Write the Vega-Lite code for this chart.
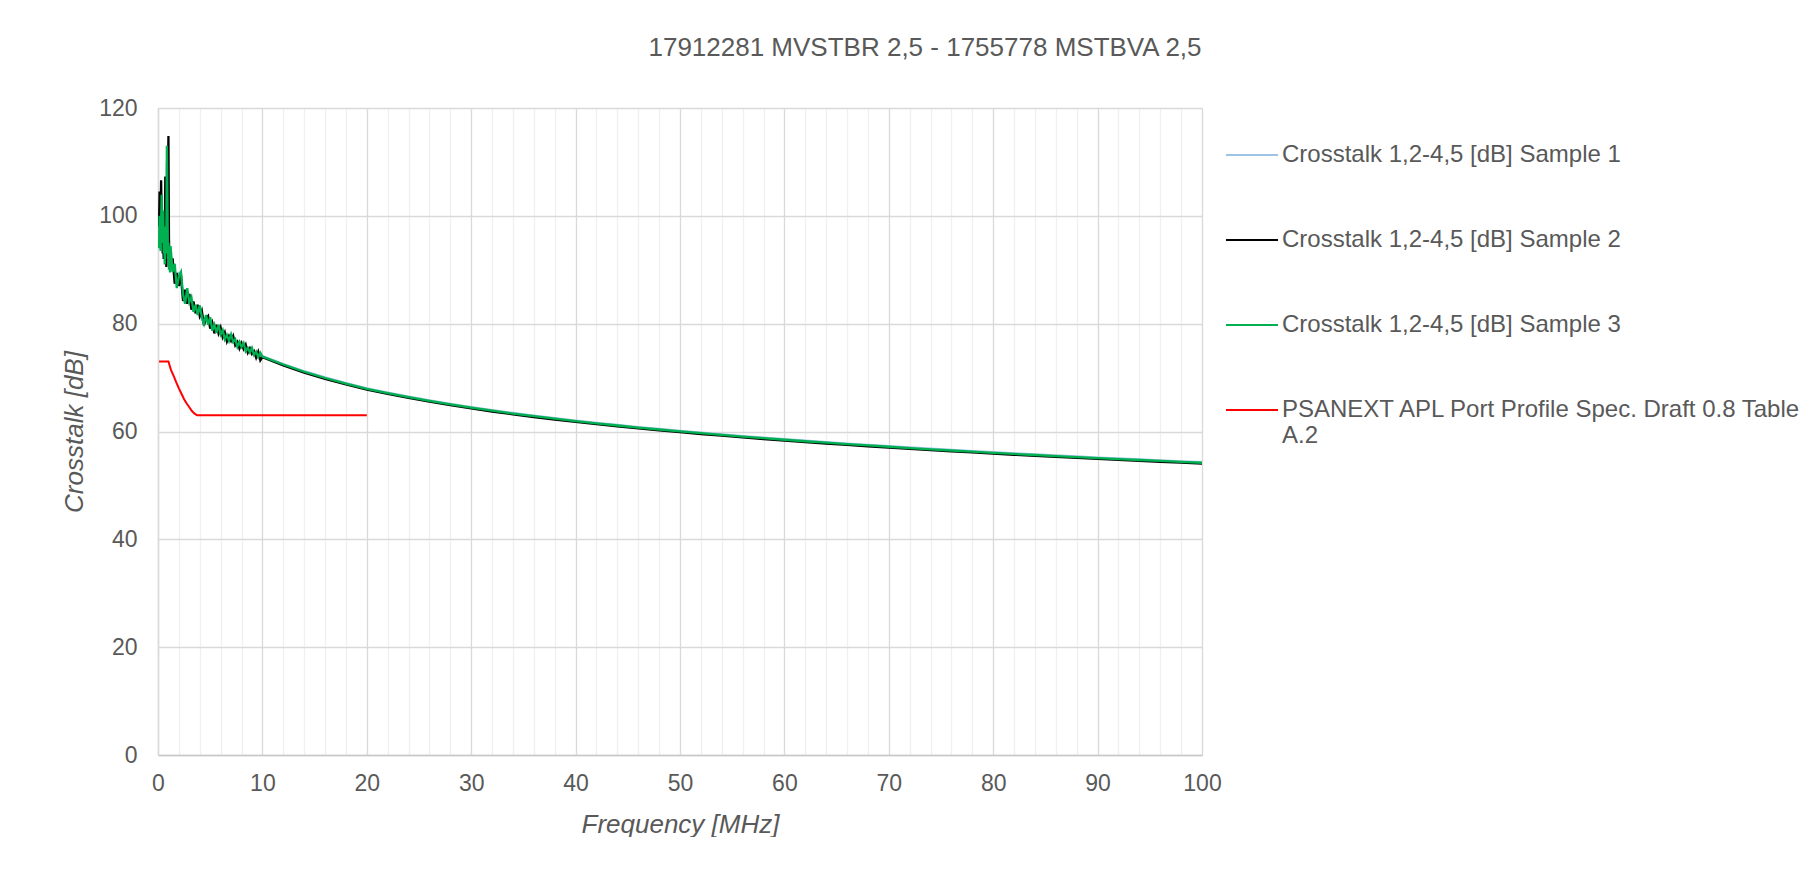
{
  "$schema": "https://vega.github.io/schema/vega-lite/v6.json",
  "width": 1044,
  "height": 647,
  "padding": {"left": 61, "top": 35, "right": 0, "bottom": 0},
  "title": {"text": "17912281 MVSTBR 2,5 - 1755778 MSTBVA 2,5", "anchor": "middle", "frame": "group", "dx": 245, "offset": 36, "fontSize": 26, "font": "Liberation Sans", "fontWeight": "normal", "color": "#595959"},
  "datasets": {
    "s1": [
      {"f":0.1,"v":95},{"f":0.15,"v":99},{"f":0.2,"v":96},{"f":0.25,"v":94},{"f":0.3,"v":100},{"f":0.35,"v":102},{"f":0.4,"v":97},{"f":0.45,"v":94},{"f":0.5,"v":99},{"f":0.55,"v":92},{"f":0.6,"v":97},{"f":0.65,"v":92},{"f":0.7,"v":97},{"f":0.75,"v":93},{"f":0.8,"v":96},{"f":0.85,"v":110},{"f":0.9,"v":103},{"f":0.95,"v":94},{"f":1.0,"v":96},{"f":1.05,"v":91},{"f":1.1,"v":94},{"f":1.15,"v":90},
      {"f":1.2,"v":92.9},{"f":1.4,"v":90.3},{"f":1.6,"v":89.4},{"f":1.8,"v":87.9},{"f":2.0,"v":89.6},{"f":2.2,"v":87.8},{"f":2.4,"v":84.6},{"f":2.6,"v":85.1},{"f":2.8,"v":85.4},{"f":3.0,"v":84.9},{"f":3.2,"v":84.1},{"f":3.4,"v":83.1},{"f":3.6,"v":82.5},{"f":3.8,"v":82.9},{"f":4.0,"v":82.6},{"f":4.2,"v":80.7},{"f":4.4,"v":80.9},{"f":4.6,"v":81.2},{"f":4.8,"v":80.7},{"f":5.0,"v":80.2},{"f":5.2,"v":79.3},{"f":5.4,"v":78.9},{"f":5.6,"v":79.1},{"f":5.8,"v":79.3},{"f":6.0,"v":78.7},{"f":6.2,"v":78.2},{"f":6.4,"v":77.7},{"f":6.6,"v":77.2},{"f":6.8,"v":77.7},{"f":7.0,"v":77.4},{"f":7.2,"v":77.1},{"f":7.4,"v":76.5},{"f":7.6,"v":76.1},{"f":7.8,"v":76.7},{"f":8.0,"v":76.0},{"f":8.2,"v":75.9},{"f":8.4,"v":75.3},{"f":8.6,"v":75.0},{"f":8.8,"v":75.5},{"f":9.0,"v":75.0},{"f":9.2,"v":74.6},{"f":9.4,"v":74.3},{"f":9.6,"v":74.3},{"f":9.8,"v":74.4},{"f":10,"v":74.0},
      {"f":12,"v":72.52},{"f":14,"v":71.18},{"f":16,"v":70.02},{"f":18,"v":68.99},{"f":20,"v":68.0},{"f":22,"v":67.22},{"f":24,"v":66.48},{"f":26,"v":65.78},{"f":28,"v":65.13},{"f":30,"v":64.52},{"f":32,"v":63.96},{"f":34,"v":63.43},{"f":36,"v":62.94},{"f":38,"v":62.47},{"f":40,"v":62.03},{"f":42,"v":61.61},{"f":44,"v":61.21},{"f":46,"v":60.83},{"f":48,"v":60.47},{"f":50,"v":60.12},{"f":52,"v":59.79},{"f":54,"v":59.47},{"f":56,"v":59.16},{"f":58,"v":58.86},{"f":60,"v":58.57},{"f":62,"v":58.29},{"f":64,"v":58.02},{"f":66,"v":57.76},{"f":68,"v":57.51},{"f":70,"v":57.27},{"f":72,"v":57.03},{"f":74,"v":56.8},{"f":76,"v":56.58},{"f":78,"v":56.36},{"f":80,"v":56.15},{"f":82,"v":55.94},{"f":84,"v":55.74},{"f":86,"v":55.55},{"f":88,"v":55.36},{"f":90,"v":55.17},{"f":92,"v":54.99},{"f":94,"v":54.81},{"f":96,"v":54.64},{"f":98,"v":54.47},{"f":100,"v":54.3}
    ],
    "s2": [
      {"f":0.1,"v":98},{"f":0.15,"v":104.5},{"f":0.2,"v":95},{"f":0.25,"v":100},{"f":0.3,"v":106.6},{"f":0.35,"v":99},{"f":0.4,"v":97},{"f":0.45,"v":93},{"f":0.5,"v":96},{"f":0.55,"v":92},{"f":0.6,"v":99},{"f":0.65,"v":95},{"f":0.7,"v":107.3},{"f":0.75,"v":94},{"f":0.8,"v":90.5},{"f":0.85,"v":96},{"f":0.9,"v":102},{"f":0.95,"v":108},{"f":1.0,"v":114.8},{"f":1.05,"v":96},{"f":1.1,"v":91},{"f":1.15,"v":94},
      {"f":1.2,"v":90.6},{"f":1.4,"v":92.1},{"f":1.6,"v":87.4},{"f":1.8,"v":89.4},{"f":2.0,"v":87.0},{"f":2.2,"v":89.0},{"f":2.4,"v":84.2},{"f":2.6,"v":86.3},{"f":2.8,"v":83.7},{"f":3.0,"v":85.5},{"f":3.2,"v":82.6},{"f":3.4,"v":84.1},{"f":3.6,"v":81.9},{"f":3.8,"v":83.5},{"f":4.0,"v":81.4},{"f":4.2,"v":82.4},{"f":4.4,"v":79.7},{"f":4.6,"v":80.9},{"f":4.8,"v":81.4},{"f":5.0,"v":79.1},{"f":5.2,"v":80.2},{"f":5.4,"v":78.2},{"f":5.6,"v":79.8},{"f":5.8,"v":78.2},{"f":6.0,"v":79.3},{"f":6.2,"v":77.5},{"f":6.4,"v":78.4},{"f":6.6,"v":76.7},{"f":6.8,"v":77.7},{"f":7.0,"v":76.8},{"f":7.2,"v":77.7},{"f":7.4,"v":76.0},{"f":7.6,"v":76.6},{"f":7.8,"v":75.4},{"f":8.0,"v":76.4},{"f":8.2,"v":75.3},{"f":8.4,"v":76.1},{"f":8.6,"v":74.6},{"f":8.8,"v":75.4},{"f":9.0,"v":74.4},{"f":9.2,"v":74.9},{"f":9.4,"v":73.7},{"f":9.6,"v":74.8},{"f":9.8,"v":73.2},{"f":10,"v":73.8},
      {"f":12,"v":72.27},{"f":14,"v":70.93},{"f":16,"v":69.77},{"f":18,"v":68.74},{"f":20,"v":67.75},{"f":22,"v":66.97},{"f":24,"v":66.23},{"f":26,"v":65.53},{"f":28,"v":64.88},{"f":30,"v":64.27},{"f":32,"v":63.71},{"f":34,"v":63.18},{"f":36,"v":62.69},{"f":38,"v":62.22},{"f":40,"v":61.78},{"f":42,"v":61.36},{"f":44,"v":60.96},{"f":46,"v":60.58},{"f":48,"v":60.22},{"f":50,"v":59.87},{"f":52,"v":59.54},{"f":54,"v":59.22},{"f":56,"v":58.91},{"f":58,"v":58.61},{"f":60,"v":58.32},{"f":62,"v":58.04},{"f":64,"v":57.77},{"f":66,"v":57.51},{"f":68,"v":57.26},{"f":70,"v":57.02},{"f":72,"v":56.78},{"f":74,"v":56.55},{"f":76,"v":56.33},{"f":78,"v":56.11},{"f":80,"v":55.9},{"f":82,"v":55.69},{"f":84,"v":55.49},{"f":86,"v":55.3},{"f":88,"v":55.11},{"f":90,"v":54.92},{"f":92,"v":54.74},{"f":94,"v":54.56},{"f":96,"v":54.39},{"f":98,"v":54.22},{"f":100,"v":54.05}
    ],
    "s3": [
      {"f":0.1,"v":94},{"f":0.15,"v":100},{"f":0.2,"v":97},{"f":0.25,"v":93.5},{"f":0.3,"v":99},{"f":0.35,"v":103.9},{"f":0.4,"v":98},{"f":0.45,"v":95},{"f":0.5,"v":101},{"f":0.55,"v":93},{"f":0.6,"v":96},{"f":0.65,"v":91},{"f":0.7,"v":98},{"f":0.75,"v":93},{"f":0.8,"v":97},{"f":0.85,"v":113},{"f":0.9,"v":104},{"f":0.95,"v":92},{"f":1.0,"v":95},{"f":1.05,"v":90},{"f":1.1,"v":93},{"f":1.15,"v":89.5},
      {"f":1.2,"v":94.4},{"f":1.4,"v":89.6},{"f":1.6,"v":91.1},{"f":1.8,"v":86.6},{"f":2.0,"v":88.8},{"f":2.2,"v":89.6},{"f":2.4,"v":85.4},{"f":2.6,"v":83.7},{"f":2.8,"v":86.6},{"f":3.0,"v":84.0},{"f":3.2,"v":84.9},{"f":3.4,"v":82.2},{"f":3.6,"v":83.5},{"f":3.8,"v":81.6},{"f":4.0,"v":83.4},{"f":4.2,"v":81.2},{"f":4.4,"v":80.0},{"f":4.6,"v":81.6},{"f":4.8,"v":79.8},{"f":5.0,"v":81.2},{"f":5.2,"v":78.7},{"f":5.4,"v":79.8},{"f":5.6,"v":78.3},{"f":5.8,"v":79.8},{"f":6.0,"v":78.0},{"f":6.2,"v":78.8},{"f":6.4,"v":77.1},{"f":6.6,"v":77.9},{"f":6.8,"v":76.8},{"f":7.0,"v":78.0},{"f":7.2,"v":76.6},{"f":7.4,"v":77.1},{"f":7.6,"v":75.7},{"f":7.8,"v":76.6},{"f":8.0,"v":75.7},{"f":8.2,"v":76.4},{"f":8.4,"v":74.9},{"f":8.6,"v":75.5},{"f":8.8,"v":74.7},{"f":9.0,"v":75.5},{"f":9.2,"v":74.2},{"f":9.4,"v":74.8},{"f":9.6,"v":73.8},{"f":9.8,"v":74.6},{"f":10,"v":73.9},
      {"f":12,"v":72.42},{"f":14,"v":71.08},{"f":16,"v":69.92},{"f":18,"v":68.89},{"f":20,"v":67.9},{"f":22,"v":67.12},{"f":24,"v":66.38},{"f":26,"v":65.68},{"f":28,"v":65.03},{"f":30,"v":64.42},{"f":32,"v":63.86},{"f":34,"v":63.33},{"f":36,"v":62.84},{"f":38,"v":62.37},{"f":40,"v":61.93},{"f":42,"v":61.51},{"f":44,"v":61.11},{"f":46,"v":60.73},{"f":48,"v":60.37},{"f":50,"v":60.02},{"f":52,"v":59.69},{"f":54,"v":59.37},{"f":56,"v":59.06},{"f":58,"v":58.76},{"f":60,"v":58.47},{"f":62,"v":58.19},{"f":64,"v":57.92},{"f":66,"v":57.66},{"f":68,"v":57.41},{"f":70,"v":57.17},{"f":72,"v":56.93},{"f":74,"v":56.7},{"f":76,"v":56.48},{"f":78,"v":56.26},{"f":80,"v":56.05},{"f":82,"v":55.84},{"f":84,"v":55.64},{"f":86,"v":55.45},{"f":88,"v":55.26},{"f":90,"v":55.07},{"f":92,"v":54.89},{"f":94,"v":54.71},{"f":96,"v":54.54},{"f":98,"v":54.37},{"f":100,"v":54.2}
    ],
    "spec": [
      {"f":0.1,"v":73},{"f":1.0,"v":73},{"f":1.25,"v":71.4},{"f":1.5,"v":70.3},{"f":1.75,"v":69.1},{"f":2.0,"v":68.0},{"f":2.25,"v":67.0},{"f":2.5,"v":66.0},{"f":2.75,"v":65.2},{"f":3.0,"v":64.5},{"f":3.25,"v":63.8},{"f":3.5,"v":63.3},{"f":3.75,"v":63.0},{"f":20,"v":63.0}
    ]
  },
  "encoding": {
    "x": {"field": "f", "type": "quantitative", "scale": {"domain": [0, 100], "nice": false},
      "axis": {"title": "Frequency [MHz]", "titleFontStyle": "italic",
        "values": [0,2,4,6,8,10,12,14,16,18,20,22,24,26,28,30,32,34,36,38,40,42,44,46,48,50,52,54,56,58,60,62,64,66,68,70,72,74,76,78,80,82,84,86,88,90,92,94,96,98,100],
        "labelExpr": "datum.value % 10 === 0 ? datum.label : ''",
        "labelOverlap": false, "labelFlush": false,
        "gridColor": {"condition": {"test": "datum.value % 10 === 0", "value": "#d9d9d9"}, "value": "#f0f0f0"},
        "labelPadding": 17, "titlePadding": 16, "domainColor": "#c8c8c8"}},
    "y": {"field": "v", "type": "quantitative", "scale": {"domain": [0, 120], "nice": false},
      "axis": {"title": "Crosstalk [dB]", "titleFontStyle": "italic", "values": [0,20,40,60,80,100,120], "labelPadding": 21, "titlePadding": 11}}
  },
  "layer": [
    {"data": {"name": "s1"}, "mark": {"type": "line", "strokeWidth": 2.3, "clip": true},
      "encoding": {"color": {"datum": "Crosstalk 1,2-4,5 [dB] Sample 1", "type": "nominal",
        "scale": {"domain": ["Crosstalk 1,2-4,5 [dB] Sample 1", "Crosstalk 1,2-4,5 [dB] Sample 2", "Crosstalk 1,2-4,5 [dB] Sample 3", "PSANEXT APL Port Profile Spec. Draft 0.8 Table A.2"], "range": ["#9dc3e6", "#000000", "#00b050", "#ff0000"]},
        "legend": {"title": null, "orient": "right", "offset": 3, "padding": 20,
          "labelExpr": "datum.label == 'PSANEXT APL Port Profile Spec. Draft 0.8 Table A.2' ? ['PSANEXT APL Port Profile Spec. Draft 0.8 Table', 'A.2'] : datum.label"}}}},
    {"data": {"name": "s2"}, "mark": {"type": "line", "strokeWidth": 2.3, "clip": true},
      "encoding": {"color": {"datum": "Crosstalk 1,2-4,5 [dB] Sample 2", "type": "nominal"}}},
    {"data": {"name": "s3"}, "mark": {"type": "line", "strokeWidth": 2.3, "clip": true},
      "encoding": {"color": {"datum": "Crosstalk 1,2-4,5 [dB] Sample 3", "type": "nominal"}}},
    {"data": {"name": "spec"}, "mark": {"type": "line", "strokeWidth": 2, "clip": true},
      "encoding": {"color": {"datum": "PSANEXT APL Port Profile Spec. Draft 0.8 Table A.2", "type": "nominal"}}}
  ],
  "config": {
    "font": "Liberation Sans",
    "view": {"stroke": null},
    "axis": {"labelColor": "#595959", "titleColor": "#595959", "labelFont": "Liberation Sans", "titleFont": "Liberation Sans", "labelFontSize": 23, "titleFontSize": 26, "titleFontWeight": "normal", "ticks": false, "gridColor": "#d9d9d9", "gridWidth": 1.3, "domainColor": "#d9d9d9", "domainWidth": 1.5},
    "legend": {"symbolType": "stroke", "symbolSize": 2704, "symbolStrokeWidth": 2, "labelFont": "Liberation Sans", "labelFontSize": 24, "labelColor": "#595959", "labelOffset": 3, "rowPadding": 46, "labelLimit": 700}
  }
}
